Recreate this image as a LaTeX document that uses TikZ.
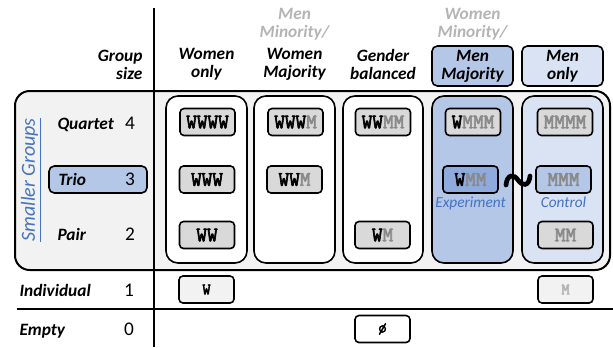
\documentclass[tikz,border=0pt]{standalone}
\usepackage{fontspec}
\setmainfont{Carlito}
\newfontfamily\cellfont{Latin Modern Mono}[AutoFakeBold=3]

\definecolor{majblue}{HTML}{B4C7E7}
\definecolor{onlyblue}{HTML}{DAE3F3}
\definecolor{expblue}{HTML}{8FAADC}
\definecolor{txtblue}{HTML}{4472C4}
\definecolor{panelgray}{HTML}{F2F2F2}
\definecolor{cellgray}{HTML}{D9D9D9}
\definecolor{mgray}{HTML}{8A8A8A}
\definecolor{hdrgray}{HTML}{B4B4B4}

\newcommand{\hdrfont}{\fontsize{13}{13.5}\selectfont\bfseries\itshape}
\newcommand{\numfont}{\fontsize{14.5}{16}\selectfont}
\newcommand{\gM}{\textcolor{mgray}{M}}

\tikzset{every picture/.style={line width=0.75pt}}
\tikzset{
  hdr/.style={font=\hdrfont, align=center, inner sep=0.75pt},
  rowlbl/.style={font=\hdrfont, anchor=base west, inner sep=0.75pt},
  num/.style={font=\numfont, anchor=base, inner sep=0.75pt},
  cell/.style={draw, line width=1.2pt, rounded corners=3pt, fill=cellgray, minimum width=41.25pt, minimum height=20.25pt, inner sep=0pt, font=\cellfont\bfseries\fontsize{15.5}{15.5}\selectfont},
  single/.style={cell, fill=panelgray, font=\cellfont\bfseries\fontsize{12}{12}\selectfont},
  colbox/.style={draw, line width=1.2pt, rounded corners=9pt},
  headbox/.style={hdr, draw, line width=1.2pt, rounded corners=4pt, minimum width=60.75pt, minimum height=30pt},
  tag/.style={font=\fontsize{11.5}{12}\selectfont\itshape, text=txtblue, anchor=base, inner sep=0.75pt}
}

\begin{document}
\begin{tikzpicture}[x=0.75pt,y=0.75pt,yscale=-1,xscale=1]
\useasboundingbox (0,0) rectangle (613,347);

%Panel of the smaller groups
\draw [line width=1.5pt, rounded corners=11pt, fill=panelgray] (15,91) rectangle (610,270);
%Trio highlight
\draw [line width=1.2pt, rounded corners=4pt, fill=majblue] (49,166) rectangle (147,193);

%Columns
\draw [colbox, fill=white] (166,96) rectangle (247,263);
\draw [colbox, fill=white] (254,96) rectangle (335,263);
\draw [colbox, fill=white] (343,96) rectangle (423,263);
\draw [colbox, fill=majblue] (432,96) rectangle (513,263);
\draw [colbox, fill=onlyblue] (522,96) rectangle (603,263);

% Header
\node [hdr, anchor=east, align=right] (gsize) at (144,64.5) {Group\\size};
\node [hdr] (hWonly) at (206.5,64.5) {Women\\only};
\node [hdr] (hWmaj) at (294.5,64.5) {Women\\Majority};
\node [hdr, text=hdrgray] (hMmin) at (294.5,24.5) {Men\\Minority/};
\node [hdr] (hBal) at (383,64.5) {Gender\\balanced};
\node [headbox, fill=majblue] (hMmaj) at (472.5,66) {Men\\Majority};
\node [hdr, text=hdrgray] (hWmin) at (472.5,24.5) {Women\\Minority/};
\node [headbox, fill=onlyblue] (hMonly) at (562.5,66) {Men\\only};

% Row labels
\node [font=\fontsize{15}{16}\selectfont\itshape, text=txtblue, rotate=90, inner sep=0.75pt] (smaller) at (31,180) {\underline{Smaller Groups}};
\node [rowlbl] (lQuartet) at (56,129.5) {Quartet};
\node [num] (n4) at (130,129.5) {4};
\node [rowlbl] (lTrio) at (57,185.5) {Trio};
\node [num] (n3) at (130,185.5) {3};
\node [rowlbl] (lPair) at (56,240.5) {Pair};
\node [num] (n2) at (130,240.5) {2};
\node [rowlbl] (lIndiv) at (18,296) {Individual};
\node [num] (n1) at (129,296) {1};
\node [rowlbl] (lEmpty) at (18,335) {Empty};
\node [num] (n0) at (129,335) {0};

% Quartets
\node [cell] (q1) at (207.5,122) {WWWW};
\node [cell] (q2) at (295.5,122) {WWW\gM};
\node [cell] (q3) at (383,122) {WW\gM\gM};
\node [cell] (q4) at (473,122) {W\gM\gM\gM};
\node [cell] (q5) at (565,122) {\gM\gM\gM\gM};
% Trios
\node [cell] (t1) at (207,179.5) {WWW};
\node [cell] (t2) at (294.5,179.5) {WW\gM};
\node [cell, fill=expblue] (t4) at (470.5,179.5) {W\gM\gM};
\node [cell, fill=majblue] (t5) at (563.5,179.5) {\gM\gM\gM};
\node [tag] (exp) at (470.5,207) {Experiment};
\node [tag] (ctrl) at (563.5,207) {Control};
% Pairs
\node [cell] (p1) at (207,235) {WW};
\node [cell] (p3) at (382.5,235) {W\gM};
\node [cell] (p5) at (565.5,235) {\gM\gM};
% Individuals and empty
\node [single] (i1) at (206.5,289.5) {W};
\node [single, text=hdrgray] (i5) at (565.5,289.5) {M};
\node [single, fill=white] (e3) at (382.5,329) {ø};

%Tilde between experiment and control
\draw [line width=3.5pt, line cap=round] (506,185) .. controls (507,174) and (514,174) .. (518,180) .. controls (522,186) and (529,187) .. (530,176);

%Grid lines
\draw [line width=1.6pt] (17,309) -- (613,309);
\draw [line width=2pt] (154,8) -- (154,347);

\end{tikzpicture}
\end{document}
